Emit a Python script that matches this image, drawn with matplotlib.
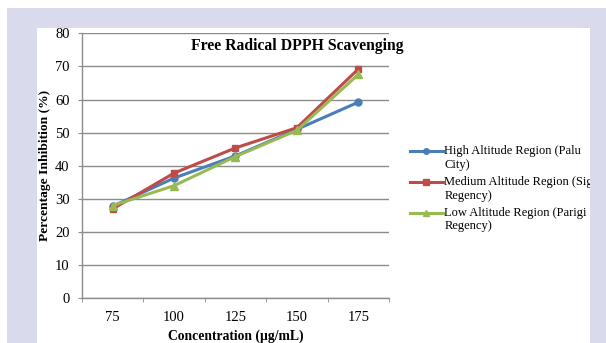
import matplotlib
matplotlib.use("Agg")
import matplotlib.pyplot as plt
from matplotlib.patches import Rectangle
from matplotlib.legend_handler import HandlerLine2D
from matplotlib.transforms import Bbox, TransformedBbox

# data
concentration = ["75", "100", "125", "150", "175"]
high_altitude = [27.8, 36.3, 43.0, 51.0, 59.2]
medium_altitude = [27.0, 37.8, 45.4, 51.5, 69.2]
low_altitude = [28.0, 34.0, 42.8, 50.7, 67.6]
series_labels = ["High Altitude Region (Palu\nCity)",
                 "Medium Altitude Region (Sigi\nRegency)",
                 "Low Altitude Region (Parigi\nRegency)"]

plt.rcParams['font.family'] = ['Liberation Serif', 'DejaVu Serif']

W, H = 606, 343
fig = plt.figure(figsize=(W / 100, H / 100), dpi=100)
fig.patch.set_facecolor("white")

# lavender page background and white chart panel
fig.patches.append(Rectangle((7 / W, 0), 1, 1 - 8 / H, transform=fig.transFigure,
                             facecolor="#d9dbec", edgecolor="none", zorder=-2))
fig.patches.append(Rectangle((37 / W, 0), (590 - 37) / W, 1 - 28 / H,
                             transform=fig.transFigure,
                             facecolor="white", edgecolor="none", zorder=-1))

ax = fig.add_axes([82 / W, 1 - 298.3 / H, (389 - 82) / W, (298.3 - 33.3) / H])
ax.set_facecolor("none")

x = range(len(concentration))
ax.plot(x, high_altitude, color="#4a7ebb", lw=2.2, marker="o", ms=5,
        label=series_labels[0], zorder=3)
ax.plot(x, medium_altitude, color="#be4b48", lw=2.2, marker="s", ms=5,
        label=series_labels[1], zorder=4)
ax.plot(x, low_altitude, color="#98b954", lw=2.2, marker="^", ms=5.5,
        label=series_labels[2], zorder=5)

ax.set_xlim(-0.5, len(concentration) - 0.5)
ax.set_ylim(0, 80)
ax.set_yticks(range(0, 81, 10))
ax.set_xticks(list(x))
ax.set_xticklabels(concentration)
ax.set_xticks([i - 0.5 for i in range(len(concentration) + 1)], minor=True)

ax.yaxis.grid(True, color="#8c8c8c", lw=1)
ax.set_axisbelow(True)
for s in ["top", "right"]:
    ax.spines[s].set_visible(False)
for s in ["left", "bottom"]:
    ax.spines[s].set_color("#8c8c8c")
    ax.spines[s].set_linewidth(1)

ax.tick_params(axis="y", direction="out", length=3, color="#8c8c8c",
               labelsize=10.5, pad=6)
ax.tick_params(axis="x", which="major", length=0, labelsize=10.5, pad=9)
ax.tick_params(axis="x", which="minor", direction="out", length=3, color="#8c8c8c")

ax.set_title("Free Radical DPPH Scavenging", fontsize=11.3, fontweight="bold",
             x=0.70, y=0.905)
ax.set_xlabel("Concentration (µg/mL)", fontsize=9.8, fontweight="bold", labelpad=4)
ax.set_ylabel("Percentage Inhibition (%)", fontsize=9.7, fontweight="bold", labelpad=3)


# Excel puts the legend key next to the first line of a wrapped label
class FirstLineHandler(HandlerLine2D):
    def create_artists(self, legend, orig_handle, xdescent, ydescent, width,
                       height, fontsize, trans):
        return super().create_artists(legend, orig_handle, xdescent,
                                      ydescent - 1.1 * fontsize, width, height,
                                      fontsize, trans)


handles, labels = ax.get_legend_handles_labels()
leg = fig.legend(handles, labels, loc="upper left",
                 bbox_to_anchor=(405 / W, 1 - 140 / H), frameon=False,
                 fontsize=9, handlelength=2.6, handletextpad=0.15,
                 labelspacing=0.4, borderaxespad=0, markerscale=0.8,
                 handler_map={h: FirstLineHandler() for h in handles})

# the reference cuts the legend text at the panel edge
clip = TransformedBbox(Bbox.from_extents(37 / W, 0, 590 / W, 1), fig.transFigure)
for t in leg.get_texts():
    t.set_clip_box(clip)
    t.set_clip_on(True)

fig.savefig("out.png", dpi=100)
